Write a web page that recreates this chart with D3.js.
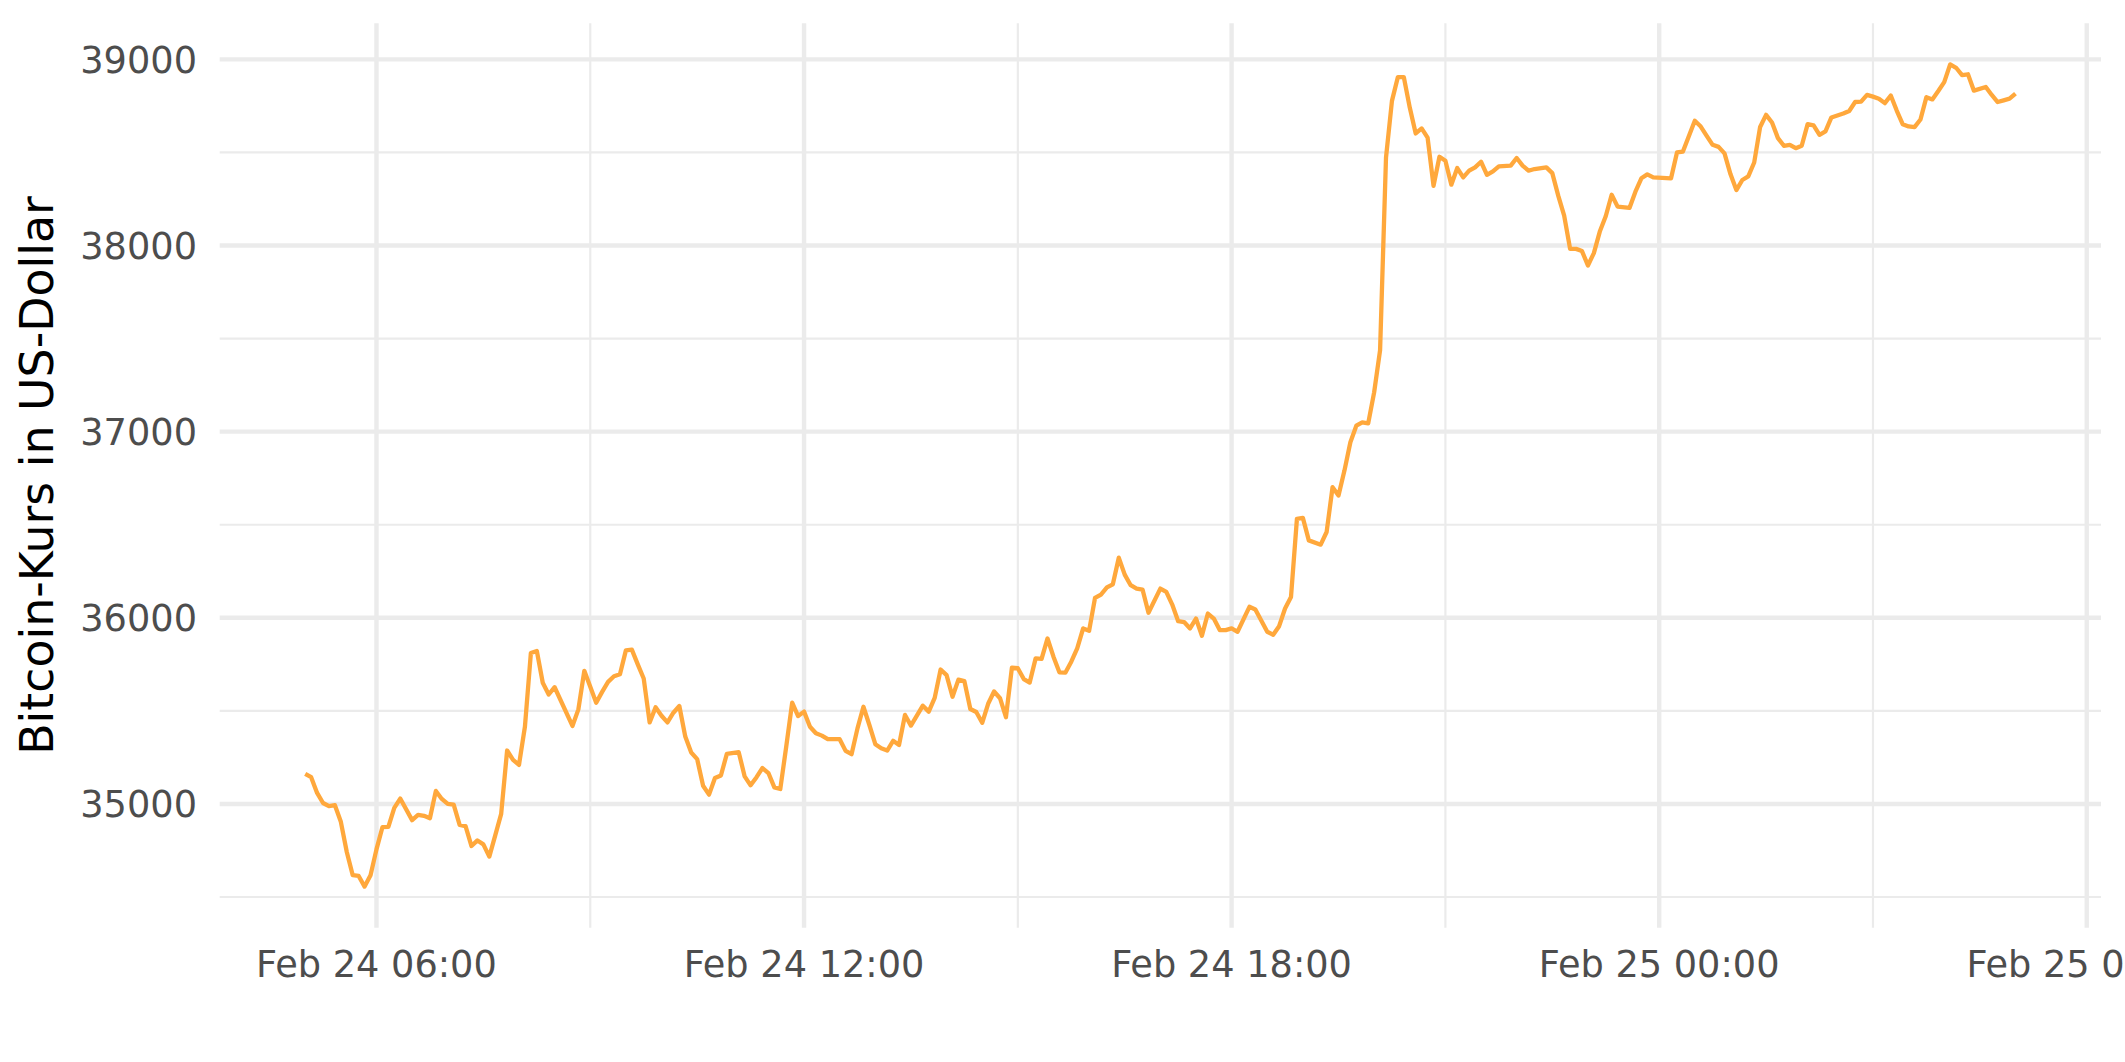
<!DOCTYPE html>
<html>
<head>
<meta charset="utf-8">
<script src="https://cdn.jsdelivr.net/npm/d3@7/dist/d3.min.js"></script>
<style>
  html, body { margin: 0; padding: 0; background: #ffffff; }
  svg { display: block; }
  text { font-family: "DejaVu Sans", sans-serif; }
</style>
</head>
<body>
<svg id="chart" width="2125" height="1062"></svg>
<script>
// ---- Data ----
// Bitcoin price in US dollars, sampled in 5-minute steps starting Feb 24 2022, 05:00
const startTime = [2022, 1, 24, 5, 0];   // year, monthIndex, day, hour, minute
const stepMinutes = 5;
const steps = [
  0,1,2,3,4,5,6,7,8,9,
  10,11,12,13,14,15,16,18,19,20,
  21,22,23,24,25,26,27,28,29,30,
  31,32,33,34,35,36,37,38,39,40,
  41,42,45,46,47,49,50,51,52,53,
  54,55,56,57,58,59,60,61,62,63,
  64,65,66,67,68,69,70,71,73,74,
  75,76,77,78,79,80,81,82,83,84,
  85,86,87,88,90,91,92,93,94,95,
  96,97,98,99,100,101,102,104,105,106,
  107,108,109,110,111,112,113,114,115,116,
  117,118,119,120,121,122,123,124,125,126,
  127,128,129,130,131,132,133,134,135,136,
  137,138,139,140,141,142,144,145,146,147,
  148,149,150,151,152,153,154,155,156,157,
  159,160,162,163,164,165,166,167,168,169,
  171,172,173,174,175,176,177,178,179,180,
  181,182,183,184,185,186,187,188,189,190,
  191,192,193,194,195,196,197,198,199,200,
  201,203,204,205,206,207,209,210,211,212,
  213,214,215,216,217,218,219,220,221,223,
  224,225,226,227,230,231,232,234,235,236,
  237,238,239,240,241,242,243,244,245,246,
  247,248,249,250,251,252,253,254,255,256,
  257,259,260,261,262,263,264,265,266,267,
  268,269,270,271,272,273,274,275,276,277,
  278,279,280,281,283,284,285,286,287,288
];
const prices = [
  35162,35144,35059,35005,34988,34993,34904,34742,34617,34613,
  34556,34617,34756,34875,34877,34979,35029,34913,34941,34936,
  34923,35070,35027,35000,34996,34888,34881,34774,34804,34783,
  34717,34831,34947,35287,35237,35210,35415,35811,35822,35651,
  35588,35627,35419,35508,35715,35544,35602,35656,35686,35697,
  35825,35829,35750,35674,35438,35519,35474,35438,35490,35526,
  35362,35276,35241,35098,35050,35139,35153,35269,35278,35148,
  35100,35144,35193,35166,35089,35080,35308,35544,35472,35496,
  35415,35380,35367,35348,35348,35285,35267,35406,35522,35424,
  35321,35299,35287,35339,35317,35478,35421,35528,35496,35570,
  35722,35692,35576,35668,35660,35510,35494,35436,35538,35604,
  35568,35466,35732,35729,35671,35652,35782,35779,35889,35791,
  35707,35705,35764,35836,35943,35930,36107,36125,36163,36180,
  36323,36232,36175,36157,36152,36027,36157,36139,36071,35982,
  35977,35943,35996,35904,36023,35996,35934,35934,35943,35925,
  36059,36045,35925,35909,35955,36050,36112,36532,36537,36416,
  36393,36461,36702,36657,36791,36943,37032,37050,37045,37211,
  37437,38473,38777,38905,38905,38741,38602,38629,38580,38321,
  38477,38455,38327,38416,38366,38402,38420,38450,38380,38398,
  38425,38429,38470,38429,38402,38411,38420,38389,38268,38161,
  37982,37982,37970,37893,37959,38075,38157,38273,38209,38202,
  38289,38361,38382,38366,38361,38500,38505,38670,38639,38589,
  38541,38530,38495,38384,38298,38352,38371,38446,38637,38702,
  38661,38577,38536,38541,38523,38536,38652,38646,38595,38613,
  38688,38709,38723,38771,38773,38809,38800,38789,38765,38806,
  38725,38652,38640,38636,38677,38797,38785,38830,38878,38973,
  38955,38916,38920,38832,38852,38809,38771,38780,38789,38816
];
const yMajorTicks = [35000, 36000, 37000, 38000, 39000];
const yMinorTicks = [34500, 35500, 36500, 37500, 38500];
const yAxisTitle = "Bitcoin-Kurs in US-Dollar";
const xTickFormat = "%b %d %H:%M";

// ---- Build records ----
const t0 = new Date(...startTime);
const data = steps.map((s, i) => ({
  t: d3.timeMinute.offset(t0, s * stepMinutes),
  v: prices[i]
}));

// ---- Layout ----
const svg = d3.select("#chart");
const panel = { left: 219.7, right: 2101, top: 23.3, bottom: 927.7 };

function expand(ext, f) {
  const span = ext[1] - ext[0];
  return [ext[0] - span * f, ext[1] + span * f];
}
const tExt = d3.extent(data, d => d.t);
const tSpan = tExt[1] - tExt[0];
const x = d3.scaleTime()
  .domain([new Date(+tExt[0] - tSpan * 0.05), new Date(+tExt[1] + tSpan * 0.05)])
  .range([panel.left, panel.right]);
const y = d3.scaleLinear()
  .domain(expand(d3.extent(data, d => d.v), 0.05))
  .range([panel.bottom, panel.top]);

const gridColor = "#EBEBEB";
const majorW = 4.4, minorW = 2.2;

// minor grid
const xMajor = x.ticks(d3.timeHour.every(6));
const xMinor = x.ticks(d3.timeHour.every(3)).filter(d => d.getHours() % 6 !== 0);

const grid = svg.append("g");
grid.selectAll("line.ymin").data(yMinorTicks).join("line")
  .attr("x1", panel.left).attr("x2", panel.right)
  .attr("y1", d => y(d)).attr("y2", d => y(d))
  .attr("stroke", gridColor).attr("stroke-width", minorW);
grid.selectAll("line.xmin").data(xMinor).join("line")
  .attr("x1", d => x(d)).attr("x2", d => x(d))
  .attr("y1", panel.top).attr("y2", panel.bottom)
  .attr("stroke", gridColor).attr("stroke-width", minorW);
// major grid
grid.selectAll("line.ymaj").data(yMajorTicks).join("line")
  .attr("x1", panel.left).attr("x2", panel.right)
  .attr("y1", d => y(d)).attr("y2", d => y(d))
  .attr("stroke", gridColor).attr("stroke-width", majorW);
grid.selectAll("line.xmaj").data(xMajor).join("line")
  .attr("x1", d => x(d)).attr("x2", d => x(d))
  .attr("y1", panel.top).attr("y2", panel.bottom)
  .attr("stroke", gridColor).attr("stroke-width", majorW);

// line
const line = d3.line().x(d => x(d.t)).y(d => y(d.v));
svg.append("path")
  .datum(data)
  .attr("d", line)
  .attr("fill", "none")
  .attr("stroke", "#FFA83C")
  .attr("stroke-width", 4.3)
  .attr("stroke-linejoin", "round")
  .attr("stroke-linecap", "butt");

// axis labels
const tickSize = 36.7;
const fmt = d3.timeFormat(xTickFormat);
svg.append("g").selectAll("text").data(xMajor).join("text")
  .attr("x", d => x(d))
  .attr("y", 977)
  .attr("text-anchor", "middle")
  .attr("font-size", tickSize)
  .attr("fill", "#4D4D4D")
  .text(d => fmt(d));

svg.append("g").selectAll("text").data(yMajorTicks).join("text")
  .attr("x", 197)
  .attr("y", d => y(d) + 0.3645 * tickSize)
  .attr("text-anchor", "end")
  .attr("font-size", tickSize)
  .attr("fill", "#4D4D4D")
  .text(d => d3.format("d")(d));

svg.append("text")
  .attr("transform", `translate(53,${(panel.top + panel.bottom) / 2}) rotate(-90)`)
  .attr("text-anchor", "middle")
  .attr("font-size", 45.8)
  .attr("fill", "#000000")
  .text(yAxisTitle);
</script>
</body>
</html>
